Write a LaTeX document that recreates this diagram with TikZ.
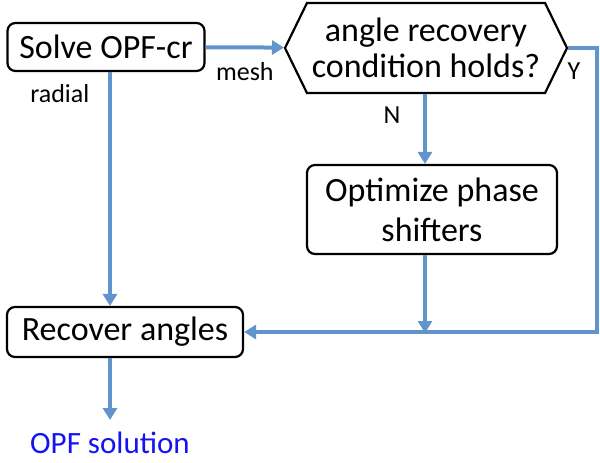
\documentclass[tikz,border=0pt]{standalone}
\usepackage{fontspec}
\setmainfont{Carlito}
\usetikzlibrary{shapes.symbols,arrows.meta,positioning}
\definecolor{flowblue}{RGB}{98,148,204}
\definecolor{outblue}{RGB}{20,20,240}

\tikzset{
  box/.style={draw, line width=1.1pt, rounded corners=4pt, align=center,
    inner sep=0pt, font=\fontsize{17}{20}\selectfont},
  test/.style={draw, line width=1.1pt, signal, signal to=west and east,
    signal pointer angle=128, align=center, inner sep=0pt,
    font=\fontsize{17}{18}\selectfont},
  flow/.style={draw=flowblue, line width=2pt, -{Triangle[length=6pt,width=7pt]}},
  lbl/.style={font=\fontsize{13}{15}\selectfont}
}

\begin{document}
\begin{tikzpicture}[x=0.5pt,y=-0.5pt]
\useasboundingbox (0,0) rectangle (600,462);

\node[box, minimum width=98.5pt, minimum height=24pt] (solve) at (106,47) {Solve OPF-cr};
\node[test, minimum width=141pt, minimum height=45pt] (check) at (426,48) {angle recovery\\condition holds?};
\node[box, minimum width=125pt, minimum height=44.5pt] (optim) at (432,209.5) {Optimize phase\\shifters};
\node[box, minimum width=118pt, minimum height=25pt] (recover) at (125,332) {Recover angles};
\node[font=\fontsize{15.5}{18}\selectfont, text=outblue] (out) at (110,443) {OPF solution};

\coordinate (ycorner) at (597,48);
\coordinate (merge) at (425,336);
\coordinate (outtip) at (110,420);

\draw[flow] (solve) -- node[lbl, below=3pt] {mesh} (check);
\draw[flow] (solve.south -| outtip) -- node[lbl, pos=0.09, left=6pt] {radial} (recover.north -| outtip);
\draw[flow] (check.south -| merge) -- node[lbl, pos=0.3, left=8pt] {N} (optim.north -| merge);
\draw[flow] (optim.south -| merge) -- ([yshift=1.5pt]merge);
\draw[flow] (check.east) -- (ycorner) |- node[lbl, pos=0.04, left=4pt] {Y} (recover.east);
\draw[flow] (recover.south -| outtip) -- (outtip);

\end{tikzpicture}
\end{document}
